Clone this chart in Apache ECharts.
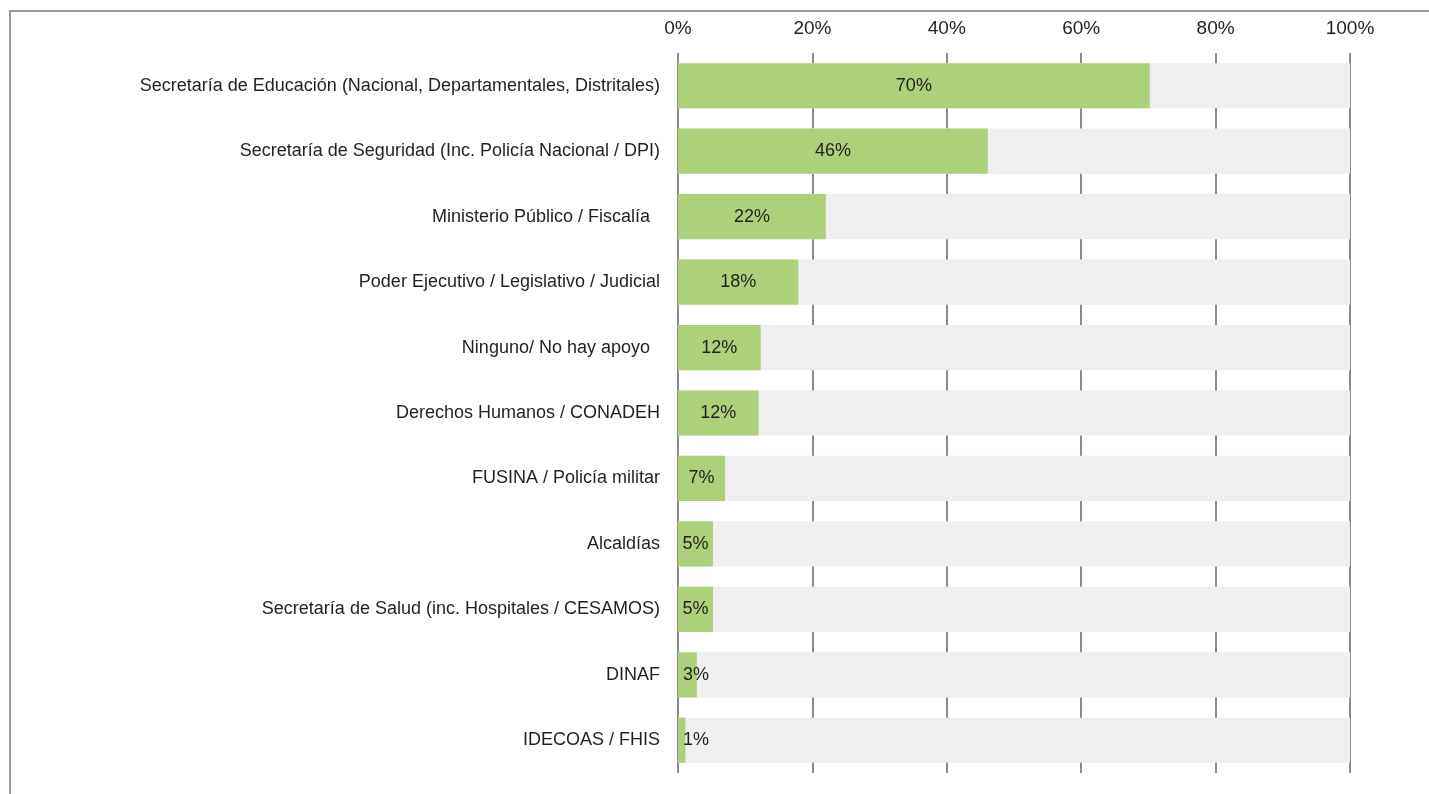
<!DOCTYPE html>
<html>
<head>
<meta charset="utf-8">
<script src="https://cdn.jsdelivr.net/npm/echarts@6/dist/echarts.min.js"></script>
<style>
  html, body { margin: 0; padding: 0; background: #fff; }
  #chart { width: 1429px; height: 794px; }
</style>
</head>
<body>
<div id="chart"></div>
<script>
const categories = [
  'Secretaría de Educación (Nacional, Departamentales, Distritales)',
  'Secretaría de Seguridad (Inc. Policía Nacional / DPI)',
  'Ministerio Público / Fiscalía  ',
  'Poder Ejecutivo / Legislativo / Judicial',
  'Ninguno/ No hay apoyo  ',
  'Derechos Humanos / CONADEH',
  'FUSINA / Policía militar',
  'Alcaldías',
  'Secretaría de Salud (inc. Hospitales / CESAMOS)',
  'DINAF',
  'IDECOAS / FHIS'
]
const values = [70.2, 46.1, 22.0, 17.9, 12.3, 12.0, 7.0, 5.2, 5.2, 2.8, 1.1]
const tickValues = [0, 20, 40, 60, 80, 100]

const font = '"Liberation Sans", Arial, sans-serif'
const chart = echarts.init(document.getElementById('chart'))

const option = {
  animation: false,
  textStyle: { fontFamily: font },
  grid: { left: 678, right: 79, top: 53, bottom: 21 },
  xAxis: {
    type: 'value',
    position: 'top',
    min: tickValues[0],
    max: tickValues[tickValues.length - 1],
    interval: 20,
    axisLine: { show: false },
    axisTick: { show: false },
    axisLabel: {
      formatter: '{value}%',
      color: '#231f20',
      fontSize: 19,
      fontFamily: font,
      margin: 15
    },
    splitLine: { show: true, lineStyle: { color: '#8c8c8c', width: 2 } }
  },
  yAxis: {
    type: 'category',
    inverse: true,
    data: categories,
    axisLine: { show: false },
    axisTick: { show: false },
    axisLabel: {
      color: '#231f20',
      fontSize: 18,
      fontFamily: font,
      margin: 18,
      padding: [7, 0, 0, 0]
    }
  },
  series: [{
    type: 'bar',
    barCategoryGap: '31%',
    showBackground: true,
    backgroundStyle: { color: '#efefef' },
    itemStyle: { color: '#add07a' },
    data: values.map(v => ({
      value: v,
      label: v < 4 ? { position: 'insideLeft', distance: 5 } : {}
    })),
    label: {
      show: true,
      position: 'inside',
      color: '#231f20',
      fontSize: 18,
      fontFamily: font,
      padding: [7, 0, 0, 0],
      formatter: p => Math.round(p.value) + '%'
    }
  }],
  graphic: [{
    type: 'polyline',
    shape: { points: [[10, 794], [10, 11], [1429, 11]] },
    style: { stroke: '#999', lineWidth: 2, fill: null }
  }]
}
chart.setOption(option)
</script>
</body>
</html>
